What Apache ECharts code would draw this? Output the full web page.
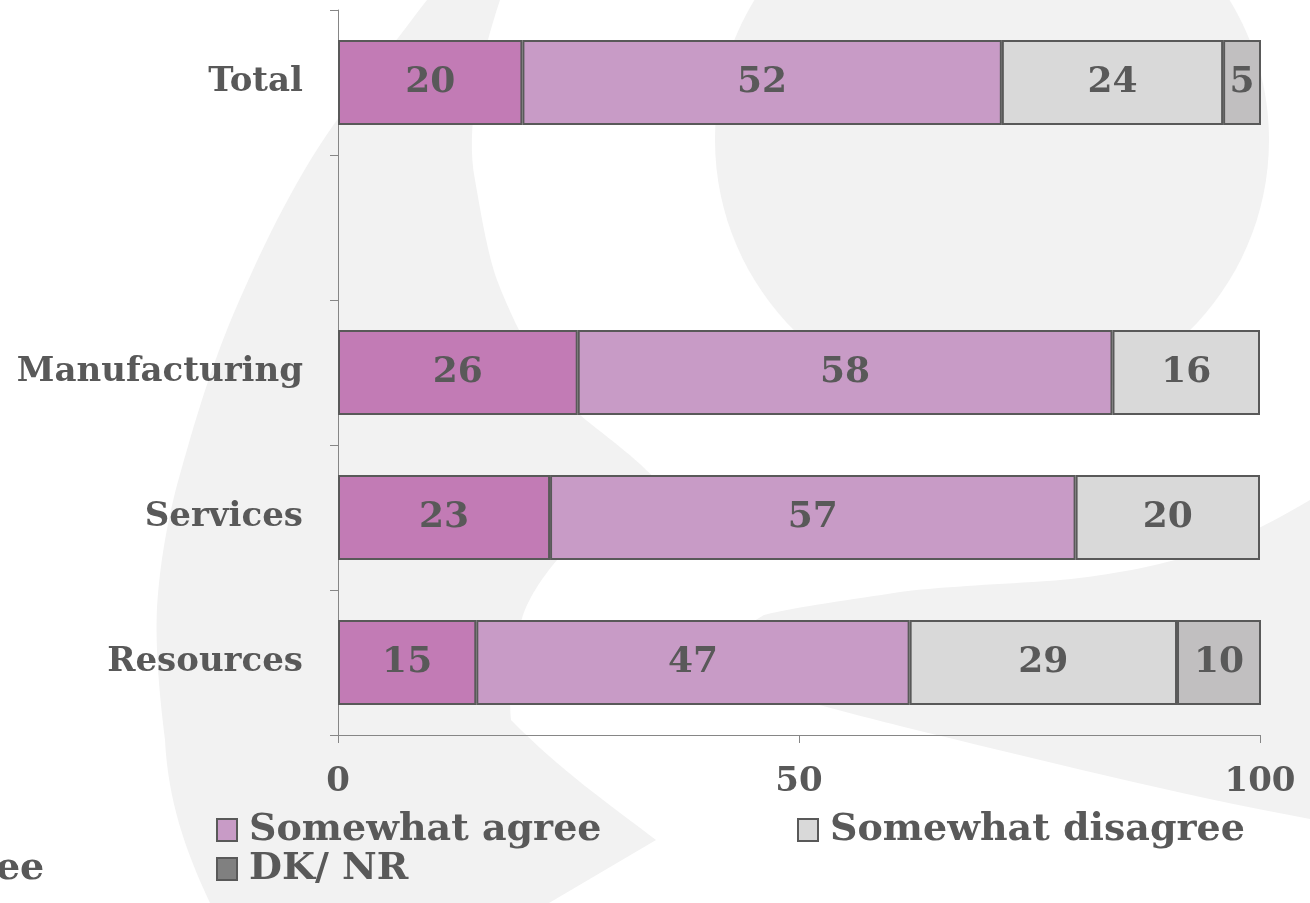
<!DOCTYPE html>
<html>
<head>
<meta charset="utf-8">
<script src="https://cdn.jsdelivr.net/npm/echarts@6/dist/echarts.min.js"></script>
<style>
  html, body { margin: 0; padding: 0; background: #ffffff; }
  #chart { width: 1310px; height: 903px; }
</style>
</head>
<body>
<div id="chart"></div>
<script>
// Survey answers by sector, in percent
const categories = ['Total', '', 'Manufacturing', 'Services', 'Resources'];
const seriesNames = ['Strongly agree', 'Somewhat agree', 'Somewhat disagree', 'Strongly disagree', 'DK/ NR'];
const stronglyAgree     = [20, null, 26, 23, 15];
const somewhatAgree     = [52, null, 58, 57, 47];
const somewhatDisagree  = [24, null, 16, 20, 29];
const stronglyDisagree  = [5,  null, null, null, 10];
const dkNr              = [null, null, null, null, null];
const xTicks = [0, 50, 100];

const seriesData = [stronglyAgree, somewhatAgree, somewhatDisagree, stronglyDisagree, dkNr];
const colors = ['#C27BB5', '#C89BC6', '#D9D9D9', '#C1BFC0', '#808080'];

const FONT = '"DejaVu Serif", serif';
const TEXT = '#595959';
const WATERMARK = '#F2F2F2';

// Turn a list of path steps (line or cubic) into polygon points for the background mark
function outline(start, steps) {
  const pts = [start];
  let cur = start;
  steps.forEach(s => {
    if (s.length === 1) {
      pts.push(s[0]); cur = s[0];
    } else {
      const [c1, c2, end] = s;
      for (let k = 1; k <= 16; k++) {
        const t = k / 16, u = 1 - t;
        pts.push([
          u * u * u * cur[0] + 3 * u * u * t * c1[0] + 3 * u * t * t * c2[0] + t * t * t * end[0],
          u * u * u * cur[1] + 3 * u * u * t * c1[1] + 3 * u * t * t * c2[1] + t * t * t * end[1]
        ]);
      }
      cur = end;
    }
  });
  return pts;
}

const crescent = outline([427, 0], [
  [[500, 0]],
  [[480, 60], [465, 130], [475, 180]],
  [[482, 220], [488, 255], [497, 280]],
  [[520, 340], [550, 390], [580, 415]],
  [[610, 440], [640, 460], [665, 490]],
  [[640, 525]],
  [[600, 540], [570, 550], [557, 560]],
  [[540, 580], [528, 600], [523, 615]],
  [[512, 650], [508, 690], [511, 720]],
  [[560, 770], [610, 805], [656, 840]],
  [[549, 903]],
  [[210, 903]],
  [[185, 850], [168, 800], [165, 740]],
  [[160, 700], [155, 650], [157, 607]],
  [[160, 560], [168, 520], [177, 485]],
  [[195, 420], [210, 370], [233, 315]],
  [[265, 240], [300, 170], [340, 116]],
  [[370, 75], [400, 35], [427, 0]]
]);

const sweep = outline([1310, 500], [
  [[1260, 530], [1210, 552], [1167, 562]],
  [[1120, 574], [1070, 580], [1033, 582]],
  [[980, 585], [930, 588], [900, 592]],
  [[850, 600], [800, 606], [764, 615]],
  [[690, 660]],
  [[720, 680], [750, 690], [780, 695]],
  [[820, 705], [860, 716], [900, 726]],
  [[1040, 760], [1180, 795], [1310, 819]]
]);

const chart = echarts.init(document.getElementById('chart'), null, { renderer: 'canvas' });

const legendPos = [
  { left: -365, top: 810 },
  { left: 216, top: 810 },
  { left: 797, top: 810 },
  { left: -365, top: 849 },
  { left: 216, top: 849 }
];

const option = {
  backgroundColor: '#ffffff',
  animation: false,
  graphic: {
    elements: [
      { type: 'polygon', z: -10, silent: true, shape: { points: crescent }, style: { fill: WATERMARK } },
      { type: 'ellipse', z: -10, silent: true, shape: { cx: 992, cy: 140, rx: 277, ry: 272 }, style: { fill: WATERMARK } },
      { type: 'polygon', z: -10, silent: true, shape: { points: sweep }, style: { fill: WATERMARK } }
    ]
  },
  grid: { left: 338, right: 50, top: 10, bottom: 168 },
  legend: legendPos.map((p, i) => ({
    data: [seriesNames[i]],
    left: p.left,
    top: p.top,
    padding: 0,
    icon: 'rect',
    itemWidth: 20,
    itemHeight: 22,
    selectedMode: false,
    itemStyle: { borderColor: TEXT, borderWidth: 2 },
    textStyle: {
      color: TEXT, fontFamily: FONT, fontWeight: 'bold', fontSize: 38,
      lineHeight: 40, padding: [0, 0, 0, 7]
    }
  })),
  xAxis: {
    type: 'value',
    min: xTicks[0],
    max: xTicks[xTicks.length - 1],
    interval: xTicks[1] - xTicks[0],
    splitLine: { show: false },
    axisLine: { show: true, lineStyle: { color: '#868686', width: 1 } },
    axisTick: { show: true, length: 8, lineStyle: { color: '#868686' } },
    axisLabel: {
      color: TEXT, fontFamily: FONT, fontWeight: 'bold', fontSize: 34, margin: 30
    }
  },
  yAxis: {
    type: 'category',
    inverse: true,
    data: categories,
    axisLine: { show: true, lineStyle: { color: '#868686', width: 1 } },
    axisTick: { show: true, length: 8, lineStyle: { color: '#868686' } },
    axisLabel: {
      color: TEXT, fontFamily: FONT, fontWeight: 'bold', fontSize: 34, margin: 35
    }
  },
  series: seriesNames.map((name, i) => ({
    name: name,
    type: 'bar',
    stack: 'answers',
    barWidth: 85,
    clip: true,
    data: seriesData[i],
    itemStyle: { color: colors[i], borderColor: TEXT, borderWidth: 2 },
    label: {
      show: true,
      position: 'inside',
      color: TEXT,
      fontFamily: FONT,
      fontWeight: 'bold',
      fontSize: 36
    }
  }))
};

chart.setOption(option);
</script>
</body>
</html>
